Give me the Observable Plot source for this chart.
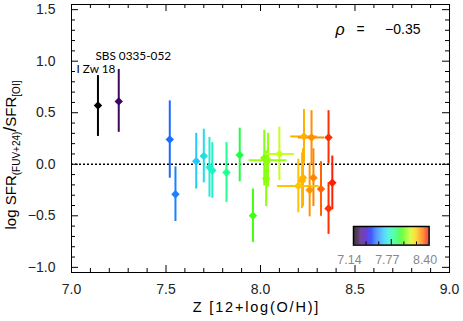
<!DOCTYPE html>
<html><head><meta charset="utf-8">
<script src="https://cdn.jsdelivr.net/npm/d3@7"></script>
<script src="https://cdn.jsdelivr.net/npm/@observablehq/plot@0.6"></script>
<style>
html,body{margin:0;padding:0;background:#fff;}
#wrap{position:relative;width:463px;height:321px;overflow:hidden;}
#wrap svg{display:block;}
#cbar{position:absolute;left:333px;top:225px;}
</style></head><body><div id="wrap"><div id="main"></div><div id="cbar"></div></div>
<script>
// ---- data ----
const names   = ["I Zw 18","SBS 0335-052","","","","","","","","","","","","","","","","","","","","","","","",""];
const Z       = [7.14, 7.25, 7.52, 7.55, 7.66, 7.70, 7.73, 7.745, 7.82, 7.89, 7.96, 8.02, 8.04, 8.03, 8.10, 8.20, 8.22, 8.225, 8.23, 8.26, 8.27, 8.28, 8.32, 8.36, 8.36, 8.38];
const ratio   = [0.57, 0.61, 0.24, -0.29, 0.03, 0.08, -0.03, -0.06, -0.08, 0.09, -0.50, 0.06, 0.04, -0.14, 0.10, -0.21, -0.16, -0.13, 0.27, -0.25, 0.26, -0.13, -0.24, 0.26, -0.43, -0.18];
const errLow  = [0.30, 0.30, 0.375, 0.265, 0.27, 0.26, 0.29, 0.27, 0.29, 0.26, 0.26, 0.27, 0.26, 0.27, 0.26, 0.26, 0.27, 0.28, 0.26, 0.26, 0.26, 0.28, 0.265, 0.26, 0.25, 0.26];
const errHigh = [0.29, 0.31, 0.375, 0.265, 0.27, 0.26, 0.29, 0.27, 0.29, 0.26, 0.26, 0.27, 0.26, 0.27, 0.26, 0.26, 0.27, 0.28, 0.26, 0.26, 0.26, 0.28, 0.265, 0.26, 0.25, 0.26];
const errZ    = [0, 0, 0, 0, 0, 0, 0, 0, 0, 0, 0, 0, 0.10, 0, 0.08, 0.11, 0, 0, 0.07, 0, 0.07, 0, 0, 0, 0, 0];
const xTicks  = [7.0, 7.5, 8.0, 8.5, 9.0];
const yTicks  = [-1.0, -0.5, 0.0, 0.5, 1.0, 1.5];
const cbarLabels = [7.14, 7.77, 8.40];
const rhoValue = "\u22120.35";
const xTitle = "Z [12+log(O/H)]";

// ---- layout ----
const W = 463, H = 321, mL = 71, mR = 14, mT = 4, mB = 49;
const xDom = [7, 9], yDom = [-1.05, 1.55];
const pxX = (W - mL - mR) / (xDom[1] - xDom[0]);
const pxY = (H - mT - mB) / (yDom[1] - yDom[0]);
const tMaj = 7, tMin = 4;

const data = Z.map((z, i) => ({
  z, y: ratio[i], lo: ratio[i] - errLow[i], hi: ratio[i] + errHigh[i],
  zlo: z - errZ[i], zhi: z + errZ[i], hasZ: errZ[i] > 0, name: names[i]
}));

// colour table (IDL-like rainbow) as fractions of the colour-bar range
const cStops = [[0,"#000000"],[0.06,"#200030"],[0.10,"#4a0a78"],[0.17,"#3a00c0"],[0.24,"#0020ff"],[0.30,"#1a6cff"],[0.41,"#20c8ff"],[0.47,"#20f0d0"],[0.54,"#20ff90"],[0.60,"#20ff40"],[0.65,"#40ff10"],[0.71,"#90ff10"],[0.76,"#c8ff20"],[0.82,"#ffd800"],[0.87,"#ffaa00"],[0.93,"#ff6c00"],[0.97,"#ff2c00"],[1,"#ff1000"]];
const cMin = cbarLabels[0], cMax = cbarLabels[cbarLabels.length - 1];
const colorOpts = {type: "linear", domain: cStops.map(s => cMin + s[0] * (cMax - cMin)), range: cStops.map(s => s[1]), interpolate: "rgb", clamp: true};

// tick positions
const xAll = d3.range(70, 91).map(v => v / 10);
const xMajT = xAll.filter((v, i) => i % 5 === 0), xMinT = xAll.filter((v, i) => i % 5 !== 0);
const yAll = d3.range(-10, 16).map(v => v / 10);
const yMajT = yAll.filter(v => Math.abs(Math.round(v * 10)) % 5 === 0), yMinT = yAll.filter(v => Math.abs(Math.round(v * 10)) % 5 !== 0);

function xTickRules(vals, len) {
  return [
    Plot.ruleX(vals, {x: d => d, y1: () => yDom[0], y2: () => yDom[0] + len / pxY, stroke: "black"}),
    Plot.ruleX(vals, {x: d => d, y1: () => yDom[1], y2: () => yDom[1] - len / pxY, stroke: "black"})
  ];
}
function yTickRules(vals, len) {
  return [
    Plot.ruleY(vals, {y: d => d, x1: () => xDom[0], x2: () => xDom[0] + len / pxX, stroke: "black"}),
    Plot.ruleY(vals, {y: d => d, x1: () => xDom[1], x2: () => xDom[1] - len / pxX, stroke: "black"})
  ];
}

const main = Plot.plot({
  width: W, height: H, marginLeft: mL, marginRight: mR, marginTop: mT, marginBottom: mB,
  style: {fontFamily: "'Liberation Sans', Arial, sans-serif", fontSize: "14px", background: "white", color: "#222"},
  x: {domain: xDom}, y: {domain: yDom},
  color: colorOpts,
  marks: [
    Plot.ruleY([0], {stroke: "black", strokeWidth: 1.5, strokeDasharray: "2,2"}),
    ...xTickRules(xMajT, tMaj), ...xTickRules(xMinT, tMin),
    ...yTickRules(yMajT, tMaj), ...yTickRules(yMinT, tMin),
    Plot.ruleX(data, {x: "z", y1: "lo", y2: "hi", stroke: "z", strokeWidth: 2}),
    Plot.ruleY(data.filter(d => d.hasZ), {y: "y", x1: "zlo", x2: "zhi", stroke: "z", strokeWidth: 2}),
    Plot.dot(data, {x: "z", y: "y", fill: "z", symbol: "diamond2", r: 3.8, stroke: "none"}),
    Plot.text(data.filter(d => d.name === names[0]), {x: "z", y: "hi", text: "name", dx: -2, dy: -6, fontFamily: "Lato, sans-serif", fontSize: 11.8, fill: "black"}),
    Plot.text(data.filter(d => d.name === names[1]), {x: "z", y: "hi", text: "name", dx: 14.5, dy: -13, fontFamily: "Lato, sans-serif", fontSize: 11.8, fill: "black"}),
    Plot.text(["\u03c1"], {frameAnchor: "top-right", text: d => d, textAnchor: "start", dx: -114, dy: 19.5, fontSize: 16, fontStyle: "italic", fill: "black"}),
    Plot.text(["="], {frameAnchor: "top-right", text: d => d, textAnchor: "middle", dx: -89, dy: 19.5, fontSize: 14, fill: "black"}),
    Plot.text([rhoValue], {frameAnchor: "top-right", text: d => d, textAnchor: "end", dx: -29, dy: 19.5, fontSize: 14, fill: "black"}),
    Plot.text([xTitle], {frameAnchor: "bottom", text: d => d, dx: -4, dy: 39.5, fontSize: 14.5, fill: "black"}),
    Plot.axisX(xTicks, {tickSize: 0, tickPadding: 12, tickFormat: d3.format(".1f"), label: null, fontSize: 14}),
    Plot.axisY(yTicks, {tickSize: 0, tickPadding: 16, tickFormat: d3.format(".1f"), label: null, fontSize: 14}),
    Plot.frame({stroke: "black"})
  ]
});
document.getElementById("main").appendChild(main);

// rich y-axis label with subscripts
const yl = d3.select(main).append("text")
  .attr("transform", "translate(16,155) rotate(-90)")
  .attr("text-anchor", "middle")
  .attr("font-family", "'Liberation Sans', Arial, sans-serif")
  .attr("font-size", 15).attr("fill", "black");
yl.append("tspan").text("log SFR");
yl.append("tspan").attr("font-size", 10).attr("dy", 4).text("(FUV+24)");
yl.append("tspan").attr("font-size", 18).attr("dy", -4).text("/");
yl.append("tspan").text("SFR");
yl.append("tspan").attr("font-size", 10).attr("dy", 4).text("[OI]");
d3.select(main).selectAll("text").filter(function(){ return this.textContent === xTitle; }).attr("letter-spacing", 1.8);

// colour bar
const cbW = 75.6, cbH = 18.6, cbL = 20, cbR = 16, cbT = 1, cbB = 24;
const nSlices = 150;
const slices = d3.range(nSlices).map(i => cMin + (i / nSlices) * (cMax - cMin));
const step = (cMax - cMin) / nSlices;
const cbTicks = d3.range(1, 6).map(k => cMin + k * (cMax - cMin) / 6);
const cbar = Plot.plot({
  width: cbW + cbL + cbR, height: cbH + cbT + cbB,
  marginLeft: cbL, marginRight: cbR, marginTop: cbT, marginBottom: cbB,
  style: {fontFamily: "'Liberation Sans', Arial, sans-serif", fontSize: "12px", background: "transparent", overflow: "visible"},
  x: {domain: [cMin, cMax], axis: null}, y: {domain: [0, 1], axis: null},
  color: colorOpts,
  marks: [
    Plot.rect(slices, {x1: d => d, x2: d => d + step * 1.05, y1: () => 0, y2: () => 1, fill: d => d + step / 2}),
    Plot.ruleX(cbTicks, {x: d => d, y1: () => 0, y2: (d, i) => i === 2 ? 0.3 : 0.17, stroke: "black"}),
    Plot.frame({stroke: "black", strokeWidth: 1.5}),
    Plot.text(cbarLabels, {x: d => d, y: () => 0, text: d => d.toFixed(2), dx: -4, dy: 15, fill: "#888", fontSize: 12.5})
  ]
});
document.getElementById("cbar").appendChild(cbar);
</script>
</body></html>
